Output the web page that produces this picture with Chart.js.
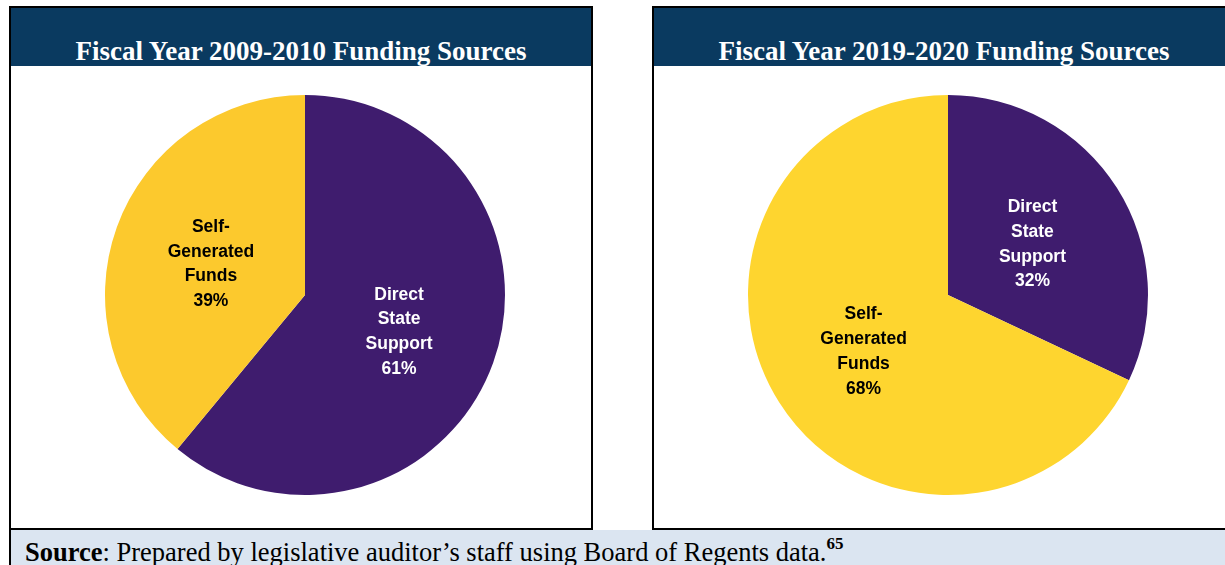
<!DOCTYPE html>
<html>
<head>
<meta charset="utf-8">
<script src="https://cdn.jsdelivr.net/npm/chart.js@4"></script>
<style>
    body { margin: 0; width: 1225px; height: 565px; background: #fff; position: relative; overflow: hidden; }
    .panel { position: absolute; top: 6px; height: 520px; border: 2px solid #000; background: #fff; box-sizing: content-box; }
    .header { position: absolute; left: 0; right: 0; top: 0; height: 58px; background: #0a3a60; color: #fff;
        font: bold 27px "Liberation Serif", "Times New Roman", serif; text-align: center; line-height: 27px; }
    .header span { position: absolute; left: 0; right: 0; top: 30px; }
    .source { position: absolute; left: 9px; top: 530px; width: 1216px; height: 35px; background: #dbe5f1;
        border-left: 2px solid #000; font: 26.5px "Liberation Serif", "Times New Roman", serif; color: #000; }
    .source div { position: absolute; left: 14px; top: 2px; white-space: nowrap; line-height: 28px; }
    sup { font-size: 17px; font-weight: bold; position: relative; top: -2px; }
    canvas { position: absolute; }
</style>
</head>
<body>
<div class="panel" style="left:9px;width:580px;"><div class="header"><span id="title1"></span></div></div>
<div class="panel" style="left:652px;width:580px;"><div class="header"><span id="title2"></span></div></div>
<div class="source"><div><b>Source</b>: Prepared by legislative auditor’s staff using Board of Regents data.<sup>65</sup></div></div>
<canvas id="pie1" width="420" height="420" style="left:95px;top:85px;"></canvas>
<canvas id="pie2" width="420" height="420" style="left:738px;top:85px;"></canvas>
<script>
// Data
const titles = ['Fiscal Year 2009-2010 Funding Sources', 'Fiscal Year 2019-2020 Funding Sources'];
const categories = ['Direct State Support', 'Self-Generated Funds'];
const labelLines = [['Direct', 'State', 'Support'], ['Self-', 'Generated', 'Funds']];
const values2010 = [61, 39];
const values2020 = [32, 68];

const purple = '#3f1c6e';

document.getElementById('title1').textContent = titles[0];
document.getElementById('title2').textContent = titles[1];

// draws the multi-line label at the middle of each slice
const sliceLabels = {
    id: 'sliceLabels',
    afterDatasetsDraw(chart) {
        const ctx = chart.ctx;
        const ds = chart.data.datasets[0];
        chart.getDatasetMeta(0).data.forEach((arc, i) => {
            const pt = arc.getCenterPoint();
            const lines = labelLines[i].concat([ds.data[i] + '%']);
            const lh = 24.8;
            ctx.save();
            ctx.font = 'bold 17.5px "Liberation Sans", Arial, sans-serif';
            ctx.textAlign = 'center';
            ctx.textBaseline = 'middle';
            ctx.fillStyle = i === 0 ? '#ffffff' : '#000000';
            lines.forEach((t, j) => {
                ctx.fillText(t, pt.x, pt.y + 3 + (j - (lines.length - 1) / 2) * lh);
            });
            ctx.restore();
        });
    }
};

function makePie(id, values, yellow) {
    new Chart(document.getElementById(id), {
        type: 'pie',
        data: {
            labels: categories,
            datasets: [{
                data: values,
                backgroundColor: [purple, yellow],
                borderWidth: 0
            }]
        },
        options: {
            responsive: false,
            animation: false,
            layout: { padding: 10 },
            plugins: { legend: { display: false }, tooltip: { enabled: false } }
        },
        plugins: [sliceLabels]
    });
}

makePie('pie1', values2010, '#fcc92d');
makePie('pie2', values2020, '#fed52f');
</script>
</body>
</html>
